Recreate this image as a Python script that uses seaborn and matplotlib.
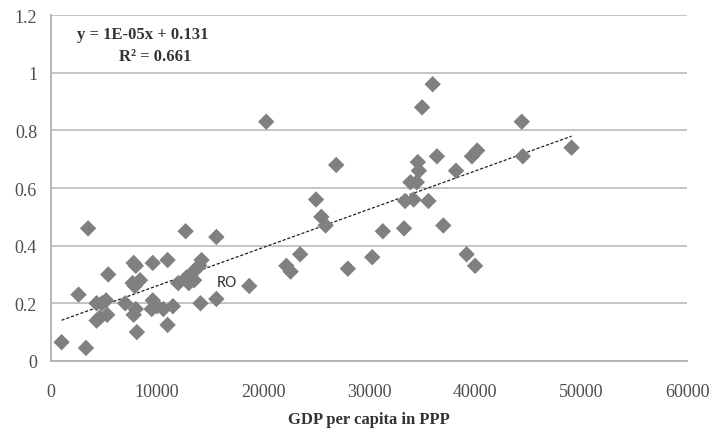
import numpy as np
import pandas as pd
import matplotlib
matplotlib.use("Agg")
import matplotlib.pyplot as plt
import seaborn as sns

# GDP per capita (PPP) and index value
gdp = [1000, 3300, 2600, 3500, 5400, 4300, 4800, 5200, 4300, 4600, 5300, 7000,
       7800, 8000, 7700, 8400, 7900, 7800, 8000, 8100, 9600, 9600, 9500, 10000,
       10600, 11000, 11000, 11500, 12700, 12000, 12800, 13200, 13500, 13700,
       14000, 14200, 13000, 14100, 15600, 15600, 18700, 20300, 22200, 22600,
       23500, 25000, 25500, 25900, 26900, 28000, 30300, 31300, 33300, 37000,
       39200, 40000, 36000, 35000, 44400, 49100, 44500, 36400, 39700, 40200,
       34600, 34700, 33900, 34500, 38200, 33400, 34200, 35600]
index = [0.065, 0.045, 0.23, 0.46, 0.30, 0.20, 0.20, 0.21, 0.14, 0.15, 0.16, 0.20,
         0.34, 0.33, 0.27, 0.28, 0.26, 0.16, 0.18, 0.10, 0.34, 0.21, 0.18, 0.19,
         0.18, 0.35, 0.125, 0.19, 0.45, 0.27, 0.29, 0.30, 0.28, 0.32,
         0.33, 0.35, 0.27, 0.20, 0.43, 0.215, 0.26, 0.83, 0.33, 0.31,
         0.37, 0.56, 0.50, 0.47, 0.68, 0.32, 0.36, 0.45, 0.46, 0.47,
         0.37, 0.33, 0.96, 0.88, 0.83, 0.74, 0.71, 0.71, 0.71, 0.73,
         0.69, 0.66, 0.62, 0.62, 0.66, 0.555, 0.56, 0.555]

x_ticks = [0, 10000, 20000, 30000, 40000, 50000, 60000]
y_ticks = [0, 0.2, 0.4, 0.6, 0.8, 1, 1.2]
y_tick_labels = ["0", "0.2", "0.4", "0.6", "0.8", "1", "1.2"]

df = pd.DataFrame({"gdp": gdp, "index": index})

sns.set_style("white")
plt.rcParams["font.family"] = ["Liberation Serif", "DejaVu Serif"]

fig = plt.figure(figsize=(7.14, 4.35), dpi=100)
ax = fig.add_axes([0.0714, 0.168, 0.891, 0.795])

sns.scatterplot(data=df, x="gdp", y="index", marker="D", s=70, color="#808080",
                edgecolor="none", ax=ax, zorder=3)
sns.regplot(data=df, x="gdp", y="index", scatter=False, ci=None, ax=ax,
            line_kws={"color": "#202020", "lw": 0.9, "ls": (0, (2.5, 1.5))})

ax.set_xlim(0, 60000)
ax.set_ylim(0, 1.2)
ax.set_xticks(x_ticks)
ax.set_xticklabels([str(t) for t in x_ticks])
ax.set_yticks(y_ticks)
ax.set_yticklabels(y_tick_labels)
ax.yaxis.grid(True, color="#c0c0c0", lw=1.3)
ax.set_axisbelow(True)
for side in ["top", "right"]:
    ax.spines[side].set_visible(False)
for side in ["left", "bottom"]:
    ax.spines[side].set_color("#b0b0b0")
    ax.spines[side].set_linewidth(1.3)
ax.tick_params(axis="both", which="both", direction="out", length=4,
               color="#c0c0c0", labelsize=13, labelcolor="#4d4d4d", pad=6)
ax.tick_params(axis="x", pad=12)

ax.set_xlabel("GDP per capita in PPP", fontsize=12, fontweight="bold",
              color="#333333", labelpad=8)
ax.set_ylabel("")

ax.text(2500, 1.12, "y = 1E-05x + 0.131", fontsize=12, fontweight="bold", color="#333333")
ax.text(6400, 1.045, "R\u00b2 = 0.661", fontsize=12, fontweight="bold", color="#333333")
ax.text(15600, 0.26, "RO", fontsize=12, family=["Carlito", "Liberation Sans", "DejaVu Sans"],
        color="#333333")

fig.savefig("out.png", dpi=100)
